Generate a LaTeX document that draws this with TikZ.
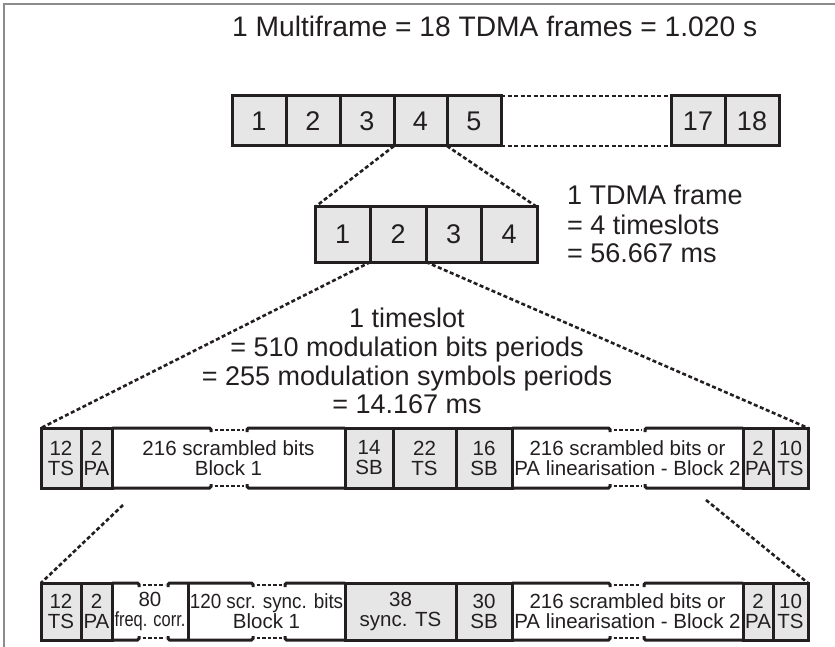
\documentclass[tikz,border=0pt]{standalone}
\usepackage{fontspec}
\usepackage{graphicx}
\setmainfont{Liberation Sans}
\definecolor{ink}{HTML}{231F20}
\definecolor{cellgray}{HTML}{E6E6E6}
\definecolor{framegray}{HTML}{8C8C8C}
\tikzset{
  cellg/.style={draw=ink, line width=3pt, fill=cellgray, inner sep=0pt, outer sep=0pt, align=center, text=ink},
  cellw/.style={inner sep=0pt, outer sep=0pt, align=center, text=ink},
  solidline/.style={draw=ink, line width=3pt},
  conn/.style={draw=ink, line width=2.6pt, dash pattern=on 4pt off 2.5pt},
  brkline/.style={draw=ink, line width=2.6pt, dash pattern=on 3.5pt off 2pt},
  numtext/.style={font=\fontsize{27}{27}\selectfont},
  bartext/.style={font=\fontsize{20.5}{20}\selectfont},
  expl/.style={font=\fontsize{27}{28}\selectfont, text=ink, inner sep=0pt},
  bigcell/.style={cellg, numtext},
  grayslot/.style={cellg, bartext},
  whiteslot/.style={cellw, bartext},
}
\newcommand{\barcell}[7]{\node[#6, minimum width={#3-#2}, minimum height=#5] (#1) at ({(#2+#3)/2},#4) {#7};}
\newcommand{\topbrk}[5]{%
  \draw[solidline, rounded corners=1.5pt] (#1,#5) -- (#2,#5) -- (#2,{#5+4});
  \draw[solidline, rounded corners=1.5pt] (#3,{#5+4}) -- (#3,#5) -- (#4,#5);
  \draw[brkline] ({#2+3.5},{#5+2}) -- ({#3-3.5},{#5+2});}
\newcommand{\botbrk}[5]{%
  \draw[solidline, rounded corners=1.5pt] (#1,#5) -- (#2,#5) -- (#2,{#5-4});
  \draw[solidline, rounded corners=1.5pt] (#3,{#5-4}) -- (#3,#5) -- (#4,#5);
  \draw[brkline] ({#2+3.5},{#5-2}) -- ({#3-3.5},{#5-2});}
\begin{document}
\begin{tikzpicture}[x=1pt,y=-1pt]
\useasboundingbox (0,0) rectangle (835,647);
\fill[white] (0,0) rectangle (835,647);
% frame
\draw[framegray, line width=2.2pt] (4,647) -- (4,4) -- (835,4);

% title
\node[expl, anchor=base west, font=\fontsize{28.2}{29}\selectfont] (title) at (232,37) {1 Multiframe = 18 TDMA frames = 1.020 s};

% multiframe row
\barcell{t1}{232}{286}{121}{50}{bigcell}{1}
\barcell{t2}{286}{340}{121}{50}{bigcell}{2}
\barcell{t3}{340}{394}{121}{50}{bigcell}{3}
\barcell{t4}{394}{447}{121}{50}{bigcell}{4}
\barcell{t5}{447}{501}{121}{50}{bigcell}{5}
\barcell{t17}{671}{725}{121}{50}{bigcell}{17}
\barcell{t18}{725}{779}{121}{50}{bigcell}{18}
\draw[conn] (t5.north east) -- (t17.north west);
\draw[conn] (t5.south east) -- (t17.south west);

% TDMA frame
\barcell{f1}{315}{370.5}{234.5}{55}{bigcell}{1}
\barcell{f2}{370.5}{426}{234.5}{55}{bigcell}{2}
\barcell{f3}{426}{481.5}{234.5}{55}{bigcell}{3}
\barcell{f4}{481.5}{537}{234.5}{55}{bigcell}{4}
\draw[conn] (t3.south east) -- (f1.north west);
\draw[conn] (t4.south east) -- (f4.north east);

\node[expl, anchor=base west] (tdmaA) at (567,205) {1 TDMA frame};
\node[expl, anchor=base west] (tdmaB) at (567,234) {= 4 timeslots};
\node[expl, anchor=base west] (tdmaC) at (567,262) {= 56.667 ms};

\node[expl, anchor=base] (tsA) at (407,327) {1 timeslot};
\node[expl, anchor=base] (tsB) at (407,356) {= 510 modulation bits periods};
\node[expl, anchor=base] (tsC) at (407,385) {= 255 modulation symbols periods};
\node[expl, anchor=base] (tsD) at (407,413) {= 14.167 ms};

% middle bar (normal burst)
\barcell{m1}{41}{81}{458}{60}{grayslot}{12\\TS}
\barcell{m2}{81}{112}{458}{60}{grayslot}{2\\PA}
\barcell{m3}{112}{345}{458}{60}{whiteslot}{216 scrambled bits\\Block 1}
\barcell{m4}{345}{393}{458}{60}{grayslot}{14\\SB}
\barcell{m5}{393}{456}{458}{60}{grayslot}{22\\TS}
\barcell{m6}{456}{512}{458}{60}{grayslot}{16\\SB}
\barcell{m7}{512}{743}{458}{60}{whiteslot}{216 scrambled bits or\\PA linearisation - Block 2}
\barcell{m8}{743}{773}{458}{60}{grayslot}{2\\PA}
\barcell{m9}{773}{808}{458}{60}{grayslot}{10\\TS}
\topbrk{112}{211}{247}{345}{428}
\botbrk{112}{211}{247}{345}{488}
\topbrk{512}{610}{645}{743}{428}
\botbrk{512}{610}{645}{743}{488}

\draw[conn] (f1.south east) -- (m1.north west);
\draw[conn] (f2.south east) -- (m9.north east);

% bottom bar (synchronisation burst)
\barcell{b1}{41}{81}{611.5}{57}{grayslot}{12\\TS}
\barcell{b2}{81}{112}{611.5}{57}{grayslot}{2\\PA}
\barcell{b3}{112}{188}{611.5}{57}{whiteslot}{80\\\scalebox{0.8}[1]{freq. corr.}}
\barcell{b4}{188}{345}{611.5}{57}{whiteslot}{\scalebox{0.92}[1]{120 scr. sync. bits}\\Block 1}
\barcell{b5}{345}{456}{611.5}{57}{grayslot}{38\\sync. TS}
\barcell{b6}{456}{512}{611.5}{57}{grayslot}{30\\SB}
\barcell{b7}{512}{743}{611.5}{57}{whiteslot}{216 scrambled bits or\\PA linearisation - Block 2}
\barcell{b8}{743}{773}{611.5}{57}{grayslot}{2\\PA}
\barcell{b9}{773}{808}{611.5}{57}{grayslot}{10\\TS}
\draw[solidline] (b3.north east) -- (b3.south east);
\topbrk{112}{139}{168}{188}{583}
\botbrk{112}{139}{168}{188}{640}
\topbrk{188}{253}{285}{345}{583}
\botbrk{188}{253}{285}{345}{640}
\topbrk{512}{610}{644}{743}{583}
\botbrk{512}{610}{644}{743}{640}

\coordinate (lowL) at (123,505);
\coordinate (lowR) at (706,500);
\draw[conn] (lowL) -- (b1.north west);
\draw[conn] (lowR) -- (b9.north east);
\end{tikzpicture}
\end{document}
